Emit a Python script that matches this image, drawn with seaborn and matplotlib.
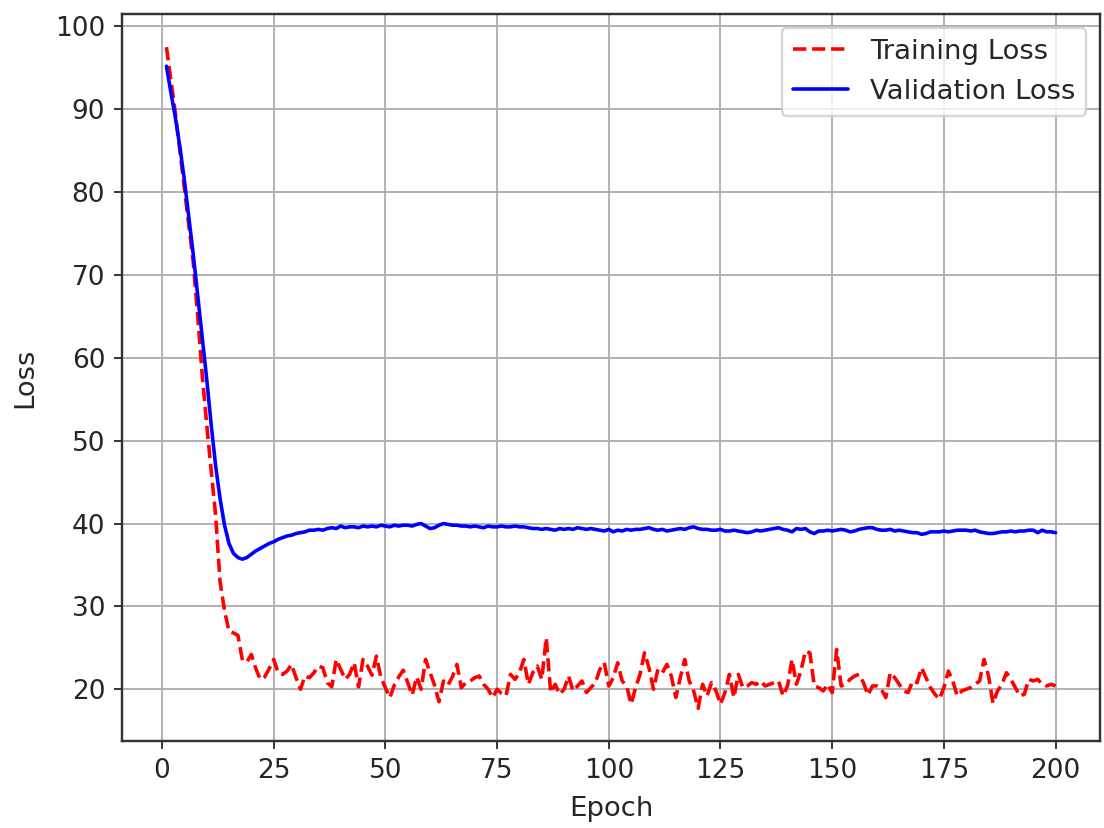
import numpy as np
import pandas as pd
import matplotlib
matplotlib.use("Agg")
import matplotlib.pyplot as plt
import seaborn as sns

# Per-epoch losses recorded during training
epochs = list(range(1, 201))

train_loss = [
    97.5, 93.5, 89.5, 85.0, 80.5, 76.0, 71.5, 65.0, 58.0, 52.0,
    46.5, 41.0, 33.0, 29.5, 27.0, 26.8, 26.5, 23.5, 23.3, 24.2,
    22.5, 21.2, 21.5, 22.5, 23.6, 22.0, 21.8, 22.2, 23.0, 21.4,
    20.0, 21.6, 21.4, 22.0, 22.8, 22.6, 20.8, 20.3, 23.6, 22.4,
    21.2, 21.8, 23.2, 20.3, 23.6, 22.8, 21.7, 24.0, 21.4, 20.2,
    19.0, 20.5, 21.5, 22.3, 20.8, 19.3, 21.5, 20.0, 23.6, 22.0,
    20.5, 18.5, 21.0, 20.5, 21.5, 23.0, 20.2, 20.8, 21.0, 21.4,
    21.6, 20.6, 20.0, 19.0, 20.0, 19.5, 19.2, 21.8, 21.2, 22.0,
    23.6, 20.6, 22.0, 22.8, 21.2, 26.2, 19.6, 20.6, 19.4, 20.0,
    21.6, 19.8, 20.4, 21.0, 19.6, 20.2, 20.8, 22.4, 23.2, 20.4,
    21.4, 23.2, 21.0, 20.4, 18.2, 20.2, 21.8, 24.4, 22.6, 20.0,
    22.4, 22.0, 23.0, 21.6, 19.0, 21.4, 23.6, 21.0, 19.8, 17.7,
    20.6, 19.2, 20.8, 19.8, 18.2, 19.6, 21.8, 19.0, 21.8, 20.2,
    20.4, 20.8, 20.6, 21.0, 20.4, 20.6, 20.8, 21.0, 19.2, 20.4,
    23.6, 20.6, 22.2, 24.6, 24.4, 20.4, 20.2, 19.8, 20.6, 19.6,
    24.8, 20.4, 20.6, 21.2, 21.6, 21.8, 20.8, 19.3, 20.4, 20.4,
    20.0, 19.0, 22.0, 21.4, 20.6, 19.8, 19.6, 21.0, 20.8, 22.6,
    21.4, 20.2, 19.4, 18.8, 20.2, 22.2, 21.0, 19.2, 19.8, 20.0,
    20.2, 20.6, 21.0, 23.6, 21.6, 18.3, 19.8, 20.6, 22.0, 21.2,
    20.2, 19.2, 19.4, 21.2, 21.0, 21.2, 20.6, 20.4, 20.6, 20.4,
]

val_loss = [
    95.2, 92.0, 89.0, 85.5, 81.5, 77.0, 72.5, 67.5, 62.5, 57.5,
    52.0, 47.0, 43.0, 39.8, 37.6, 36.4, 35.9, 35.7, 35.9, 36.3,
    36.7, 37.0, 37.3, 37.6, 37.8, 38.1, 38.3, 38.5, 38.6, 38.8,
    38.9, 39.0, 39.2, 39.2, 39.3, 39.2, 39.4, 39.5, 39.4, 39.7,
    39.5, 39.6, 39.6, 39.5, 39.7, 39.6, 39.7, 39.6, 39.8, 39.7,
    39.6, 39.8, 39.7, 39.8, 39.8, 39.7, 39.9, 40.0, 39.7, 39.4,
    39.5, 39.8, 40.0, 39.9, 39.8, 39.8, 39.7, 39.7, 39.6, 39.7,
    39.6, 39.5, 39.7, 39.6, 39.6, 39.7, 39.6, 39.6, 39.7, 39.6,
    39.6, 39.5, 39.4, 39.4, 39.3, 39.4, 39.3, 39.2, 39.4, 39.3,
    39.4, 39.3, 39.5, 39.4, 39.3, 39.4, 39.3, 39.2, 39.1, 39.3,
    39.0, 39.2, 39.1, 39.3, 39.2, 39.3, 39.3, 39.4, 39.5, 39.3,
    39.2, 39.3, 39.1, 39.2, 39.3, 39.4, 39.3, 39.5, 39.6, 39.4,
    39.3, 39.3, 39.2, 39.2, 39.3, 39.1, 39.1, 39.2, 39.1, 39.0,
    38.9, 39.0, 39.2, 39.1, 39.2, 39.3, 39.4, 39.5, 39.3, 39.2,
    39.0, 39.4, 39.3, 39.4, 39.0, 38.8, 39.1, 39.1, 39.2, 39.1,
    39.2, 39.3, 39.2, 39.0, 39.1, 39.3, 39.4, 39.5, 39.5, 39.3,
    39.2, 39.2, 39.3, 39.1, 39.2, 39.1, 39.0, 38.9, 38.9, 38.7,
    38.8, 39.0, 39.0, 39.0, 39.1, 39.0, 39.1, 39.2, 39.2, 39.2,
    39.1, 39.2, 39.0, 38.9, 38.8, 38.8, 38.9, 39.0, 39.0, 39.1,
    39.0, 39.1, 39.1, 39.2, 39.2, 38.9, 39.2, 39.0, 39.0, 38.9,
]

series_names = ["Training Loss", "Validation Loss"]

df = pd.DataFrame({
    "Epoch": epochs * 2,
    "Loss": train_loss + val_loss,
    "Series": [series_names[0]] * len(epochs) + [series_names[1]] * len(epochs),
})

sns.set_theme(style="ticks")
plt.rcParams["font.family"] = ["DejaVu Sans"]
text_color = "#262626"

fig, ax = plt.subplots(figsize=(6.4, 4.8), dpi=172.5)
fig.subplots_adjust(left=0.1105, right=0.9964, top=0.983, bottom=0.1046)

sns.lineplot(
    data=df, x="Epoch", y="Loss", hue="Series", style="Series",
    palette={series_names[0]: "red", series_names[1]: "blue"},
    dashes={series_names[0]: (3.7, 1.6), series_names[1]: ""},
    linewidth=1.5, ax=ax,
)

ax.grid(True, color="#b0b0b0", linewidth=0.8)
ax.set_axisbelow(True)
for s in ax.spines.values():
    s.set_color("#333333")
    s.set_linewidth(1.0)
ax.tick_params(axis="both", labelsize=11, labelcolor=text_color, direction="out",
               length=3.5, width=0.8, color="#333333")
ax.set_xlabel("Epoch", fontsize=11.5, color=text_color, labelpad=5)
ax.set_ylabel("Loss", fontsize=11.5, color=text_color, labelpad=7)
ax.set_xticks(range(0, 201, 25))
ax.set_yticks(range(20, 101, 10))
ax.margins(x=0.05, y=0.05)

leg = ax.legend(loc="upper right", fontsize=11.5, frameon=True, fancybox=True,
                framealpha=0.8, edgecolor="#cccccc")
for t in leg.get_texts():
    t.set_color(text_color)

fig.savefig("out.png", dpi=172.5)
